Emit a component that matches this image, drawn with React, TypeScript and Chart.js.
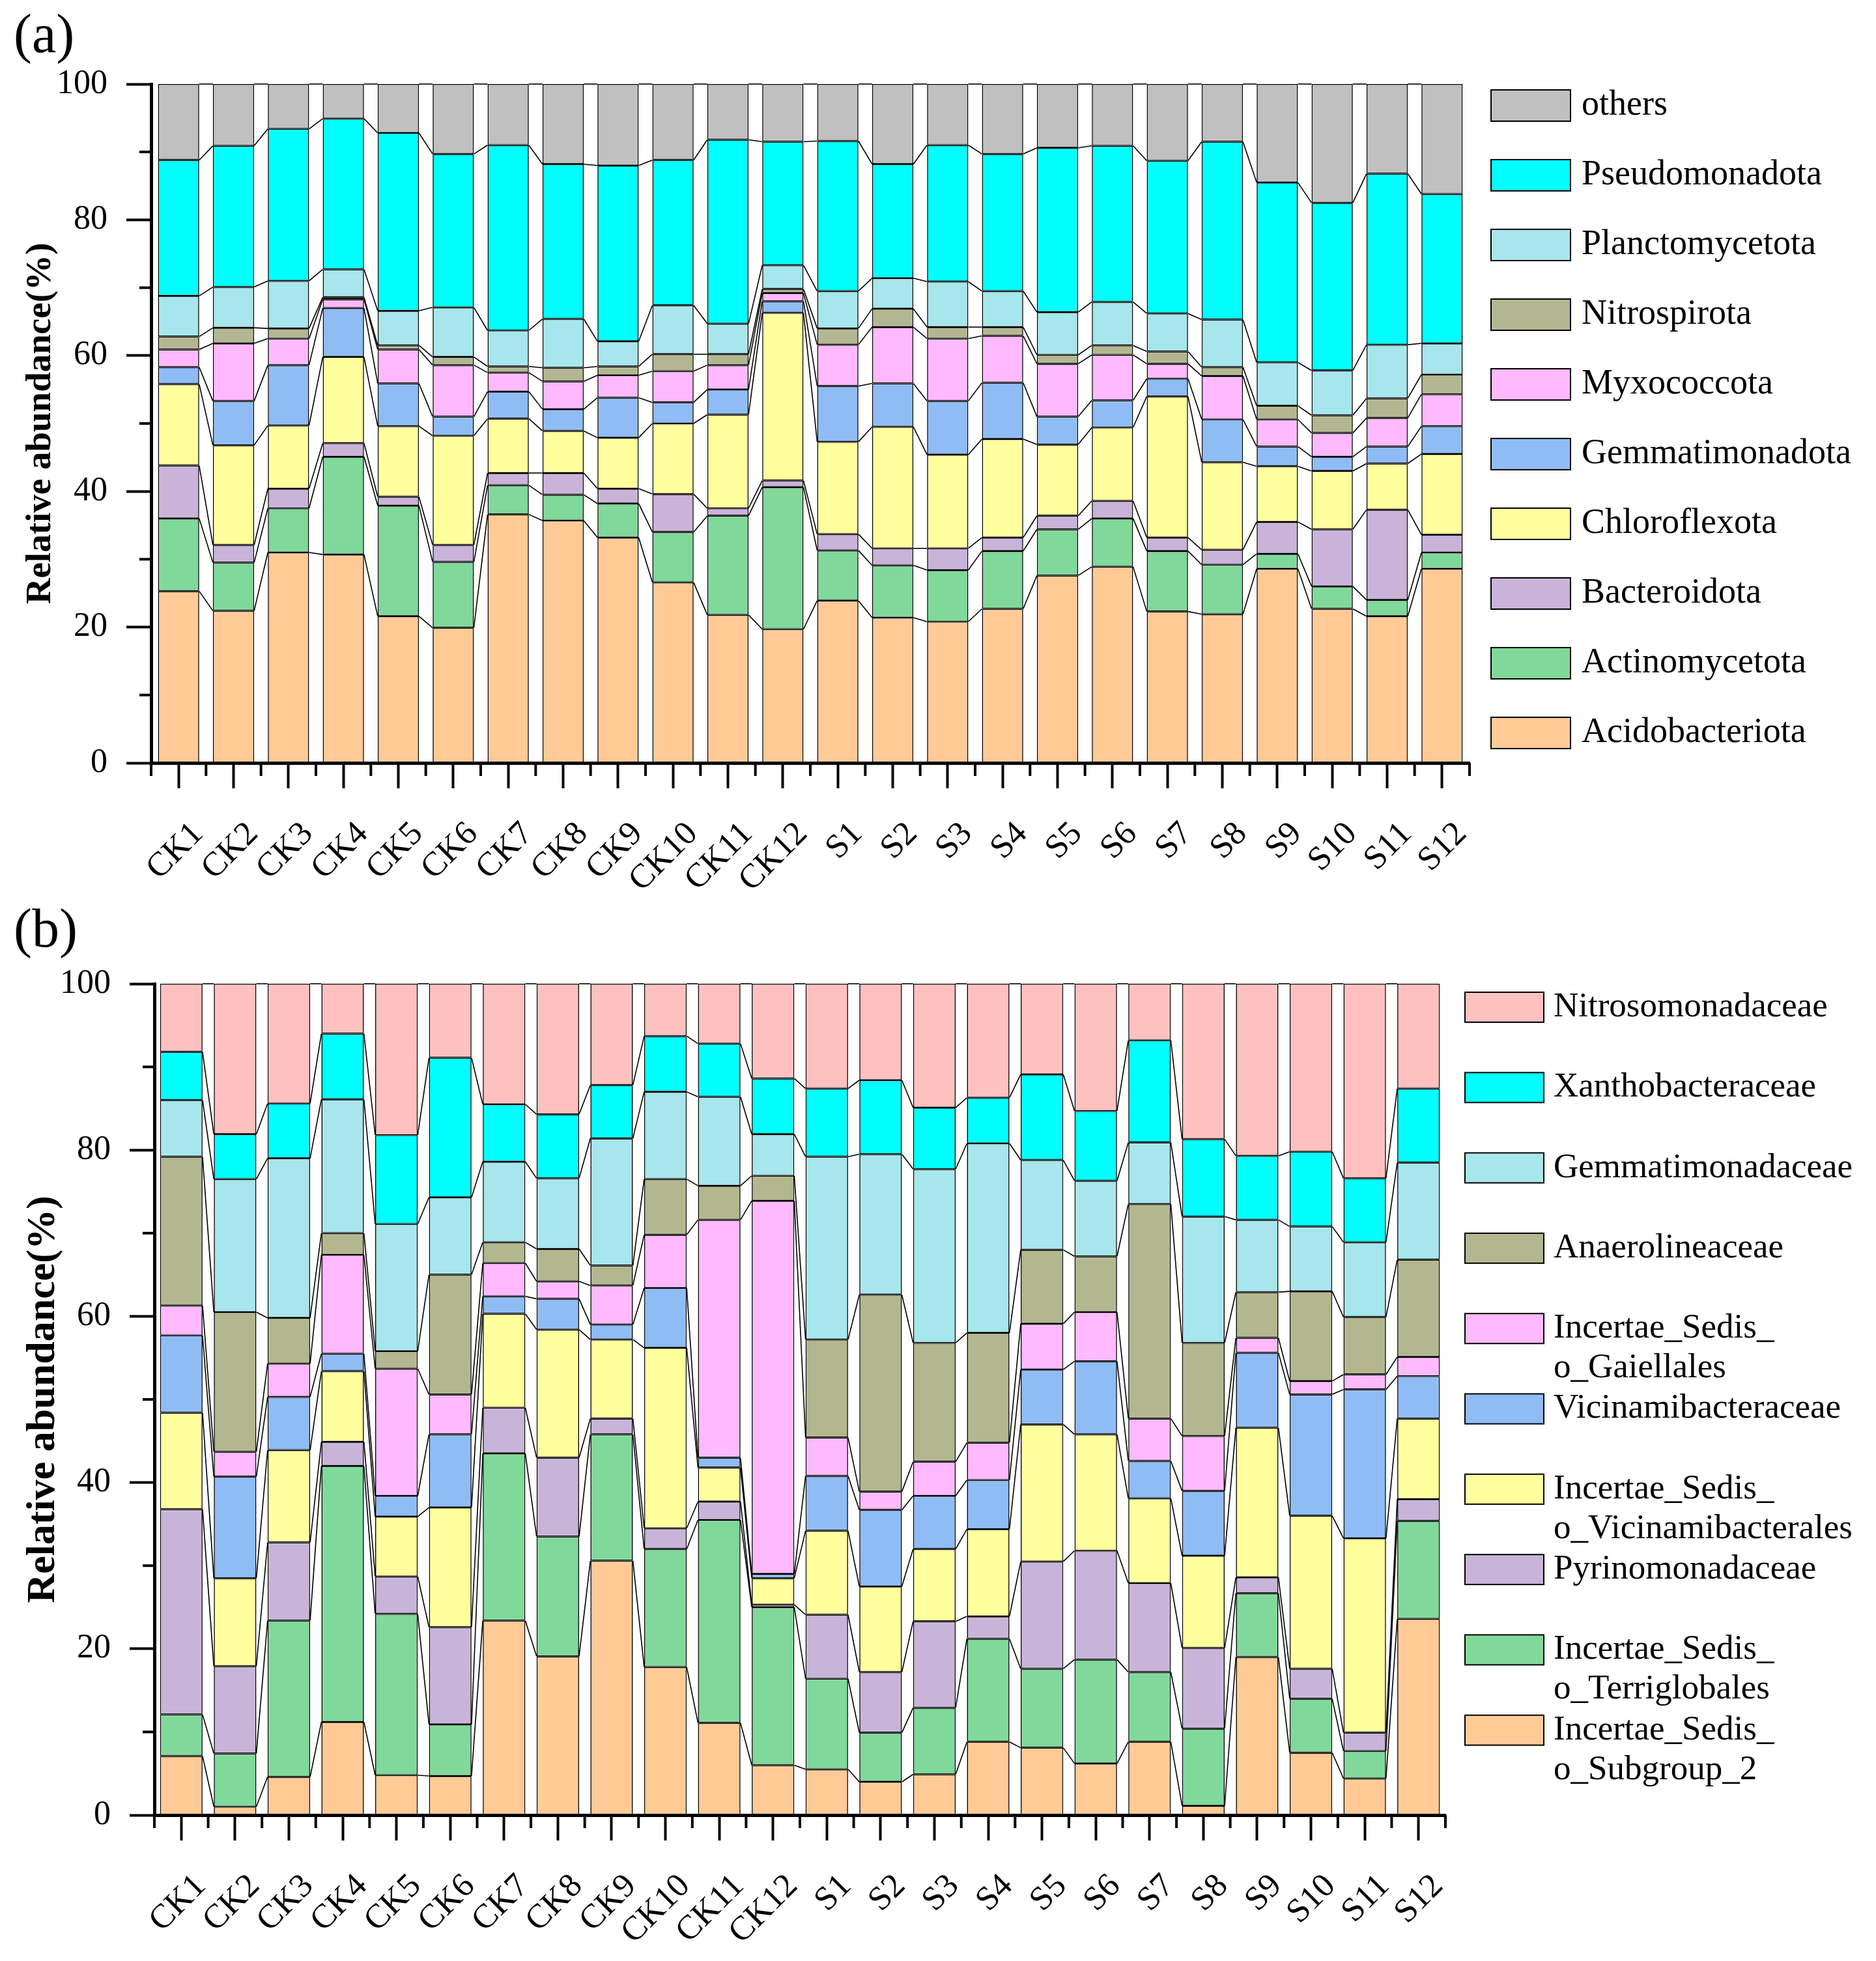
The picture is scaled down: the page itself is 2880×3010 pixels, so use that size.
import React, { useEffect, useRef } from 'react';
import { Chart, registerables } from 'chart.js';

Chart.register(...registerables);

// ---------- shared categories ----------
const samples = [
  'CK1', 'CK2', 'CK3', 'CK4', 'CK5', 'CK6', 'CK7', 'CK8', 'CK9', 'CK10', 'CK11', 'CK12',
  'S1', 'S2', 'S3', 'S4', 'S5', 'S6', 'S7', 'S8', 'S9', 'S10', 'S11', 'S12',
];
const yTickValues = [0, 20, 40, 60, 80, 100];
const yMinorTickValues = [10, 30, 50, 70, 90];
const yAxisTitle = 'Relative abundance(%)';

// ---------- panel (a): phyla (bottom -> top) ----------
const phylumNames = [
  'Acidobacteriota', 'Actinomycetota', 'Bacteroidota', 'Chloroflexota', 'Gemmatimonadota',
  'Myxococcota', 'Nitrospirota', 'Planctomycetota', 'Pseudomonadota', 'others',
];
const phylumColors = [
  '#FFCA96', '#80D89A', '#C9B3D8', '#FFFF9E', '#8FBCF5',
  '#FFB9FF', '#B3B791', '#A6E6EC', '#00FFFF', '#C0C0C0',
];
const acidobacteriota = [25.3, 22.4, 31.0, 30.7, 21.6, 19.9, 36.6, 35.7, 33.2, 26.6, 21.8, 19.7, 23.9, 21.4, 20.8, 22.7, 27.6, 28.9, 22.3, 21.9, 28.6, 22.7, 21.6, 28.6];
const actinomycetota = [10.7, 7.1, 6.5, 14.4, 16.3, 9.7, 4.3, 3.8, 5.0, 7.4, 14.6, 20.9, 7.4, 7.7, 7.6, 8.5, 6.8, 7.1, 8.9, 7.3, 2.2, 3.3, 2.4, 2.4];
const bacteroidota = [7.8, 2.6, 2.9, 2.0, 1.3, 2.5, 1.8, 3.2, 2.2, 5.6, 1.1, 1.0, 2.4, 2.5, 3.2, 2.0, 2.0, 2.6, 2.0, 2.2, 4.7, 8.4, 13.3, 2.6];
const chloroflexota = [12.0, 14.7, 9.3, 12.7, 10.4, 16.1, 8.0, 6.2, 7.5, 10.4, 13.8, 24.7, 13.6, 17.9, 13.8, 14.5, 10.5, 10.8, 20.8, 12.9, 8.2, 8.6, 6.8, 11.9];
const gemmatimonadota = [2.5, 6.5, 8.9, 7.2, 6.3, 2.8, 4.0, 3.2, 5.9, 3.1, 3.7, 1.7, 8.2, 6.4, 7.9, 8.3, 4.1, 4.0, 2.6, 6.3, 2.9, 2.1, 2.5, 4.1];
const myxococcota = [2.6, 8.5, 3.9, 1.3, 5.0, 7.6, 2.8, 4.1, 3.3, 4.6, 3.6, 1.2, 6.1, 8.3, 9.2, 6.9, 7.8, 6.7, 2.2, 6.4, 4.0, 3.5, 4.2, 4.7];
const nitrospirota = [1.9, 2.3, 1.5, 0.3, 0.6, 1.2, 0.9, 2.0, 1.3, 2.5, 1.6, 0.6, 2.4, 2.7, 1.7, 1.3, 1.3, 1.4, 1.8, 1.3, 2.0, 2.6, 2.9, 2.9];
const planctomycetota = [6.0, 6.0, 7.0, 4.1, 5.1, 7.3, 5.3, 7.2, 3.7, 7.2, 4.5, 3.5, 5.5, 4.5, 6.7, 5.3, 6.3, 6.4, 5.6, 7.0, 6.4, 6.6, 7.9, 4.6];
const pseudomonadota = [20.0, 20.8, 22.4, 22.2, 26.2, 22.6, 27.3, 22.8, 25.9, 21.4, 27.1, 18.2, 22.1, 16.8, 20.1, 20.2, 24.2, 23.0, 22.5, 26.2, 26.5, 24.7, 25.2, 22.0];
const othersPhyla = [11.2, 9.1, 6.6, 5.1, 7.2, 10.3, 9.0, 11.8, 12.0, 11.2, 8.2, 8.5, 8.4, 11.8, 9.0, 10.3, 9.4, 9.1, 11.3, 8.5, 14.5, 17.5, 13.2, 16.2];

// ---------- panel (b): families (bottom -> top) ----------
const familyNames = [
  'Incertae_Sedis_\no_Subgroup_2', 'Incertae_Sedis_\no_Terriglobales', 'Pyrinomonadaceae',
  'Incertae_Sedis_\no_Vicinamibacterales', 'Vicinamibacteraceae', 'Incertae_Sedis_\no_Gaiellales',
  'Anaerolineaceae', 'Gemmatimonadaceae', 'Xanthobacteraceae', 'Nitrosomonadaceae',
];
const familyColors = [
  '#FFCA96', '#80D99B', '#C8B4D8', '#FFFF9E', '#8FBCF5',
  '#FFB9FF', '#B3B78F', '#A6E6EC', '#00FFFF', '#FFC0C0',
];
const subgroup2 = [7.1, 1.0, 4.6, 11.2, 4.8, 4.7, 23.4, 19.1, 30.6, 17.8, 11.1, 6.0, 5.5, 4.0, 4.9, 8.8, 8.1, 6.2, 8.8, 1.1, 19.0, 7.5, 4.4, 23.6];
const terriglobales = [5.0, 6.4, 18.8, 30.8, 19.4, 6.2, 20.1, 14.4, 15.2, 14.2, 24.4, 19.0, 10.9, 5.9, 8.0, 12.4, 9.5, 12.5, 8.4, 9.3, 7.7, 6.5, 3.3, 11.8];
const pyrinomonadaceae = [24.7, 10.5, 9.4, 2.9, 4.5, 11.7, 5.5, 9.5, 1.9, 2.5, 2.2, 0.3, 7.7, 7.3, 10.4, 2.7, 12.9, 13.1, 10.7, 9.7, 1.9, 3.6, 2.2, 2.6];
const vicinamibacterales = [11.6, 10.6, 11.1, 8.5, 7.2, 14.4, 11.3, 15.4, 9.5, 21.7, 4.1, 3.2, 10.1, 10.3, 8.7, 10.5, 16.5, 14.0, 10.2, 11.1, 18.0, 18.4, 23.4, 9.7];
const vicinamibacteraceae = [9.3, 12.2, 6.4, 2.1, 2.5, 8.8, 2.1, 3.7, 1.8, 7.2, 1.2, 0.5, 6.6, 9.2, 6.4, 5.9, 6.6, 8.8, 4.5, 7.8, 9.0, 14.6, 17.9, 5.1];
const gaiellales = [3.6, 3.0, 4.0, 11.9, 15.3, 4.8, 4.0, 2.1, 4.7, 6.4, 28.6, 44.9, 4.6, 2.2, 4.1, 4.5, 5.5, 5.9, 5.1, 6.6, 1.8, 1.6, 1.8, 2.3];
const anaerolineaceae = [17.9, 16.8, 5.5, 2.6, 2.1, 14.4, 2.5, 3.9, 2.4, 6.7, 4.1, 3.0, 11.8, 23.7, 14.3, 13.2, 8.9, 6.7, 25.8, 11.2, 5.5, 10.8, 6.9, 11.7];
const gemmatimonadaceae = [6.8, 16.0, 19.2, 16.1, 15.3, 9.3, 9.7, 8.5, 15.3, 10.5, 10.7, 5.0, 22.0, 16.9, 20.9, 22.8, 10.8, 9.1, 7.4, 15.2, 8.7, 7.8, 9.0, 11.7];
const xanthobacteraceae = [5.8, 5.4, 6.6, 7.9, 10.7, 16.8, 6.9, 7.7, 6.4, 6.7, 6.4, 6.7, 8.2, 8.9, 7.4, 5.5, 10.3, 8.4, 12.3, 9.3, 7.7, 9.0, 7.7, 8.9];
const nitrosomonadaceae = [8.2, 18.1, 14.4, 6.0, 18.2, 8.9, 14.5, 15.7, 12.2, 6.3, 7.2, 11.4, 12.6, 11.6, 14.9, 13.7, 10.9, 15.3, 6.8, 18.7, 20.7, 20.2, 23.4, 12.6];

const phylumSeries = [acidobacteriota, actinomycetota, bacteroidota, chloroflexota, gemmatimonadota, myxococcota, nitrospirota, planctomycetota, pseudomonadota, othersPhyla];
const familySeries = [subgroup2, terriglobales, pyrinomonadaceae, vicinamibacterales, vicinamibacteraceae, gaiellales, anaerolineaceae, gemmatimonadaceae, xanthobacteraceae, nitrosomonadaceae];

const FONT = '"Liberation Serif", "Times New Roman", serif';

// ---------- plugins ----------
const connectorPlugin = {
  id: 'stackConnectors',
  afterDatasetsDraw(chart: any) {
    const ctx = chart.ctx;
    ctx.save();
    ctx.strokeStyle = '#000';
    ctx.lineWidth = 1.6;
    chart.data.datasets.forEach((_ds: any, di: number) => {
      const meta = chart.getDatasetMeta(di);
      const els = meta.data;
      for (let i = 0; i < els.length - 1; i++) {
        const a = els[i];
        const b = els[i + 1];
        ctx.beginPath();
        ctx.moveTo(a.x + a.width / 2, a.y);
        ctx.lineTo(b.x - b.width / 2, b.y);
        ctx.stroke();
      }
    });
    ctx.restore();
  },
};

const minorTickPlugin = {
  id: 'minorTicks',
  afterDraw(chart: any, _args: any, opts: any) {
    const ctx = chart.ctx;
    const xs = chart.scales.x;
    const ys = chart.scales.y;
    const area = chart.chartArea;
    ctx.save();
    ctx.strokeStyle = '#000';
    ctx.lineWidth = opts.width;
    const n = chart.data.labels.length;
    const pitch = xs.getPixelForValue(1) - xs.getPixelForValue(0);
    for (let i = 0; i <= n; i++) {
      const px = xs.getPixelForValue(0) - pitch / 2 + i * pitch;
      ctx.beginPath();
      ctx.moveTo(px, area.bottom);
      ctx.lineTo(px, area.bottom + opts.xLen);
      ctx.stroke();
    }
    yMinorTickValues.forEach((v) => {
      const py = ys.getPixelForValue(v);
      ctx.beginPath();
      ctx.moveTo(area.left, py);
      ctx.lineTo(area.left - opts.yLen, py);
      ctx.stroke();
    });
    ctx.restore();
  },
};

const legendPlugin = {
  id: 'stackLegend',
  afterDraw(chart: any, _args: any, opts: any) {
    const ctx = chart.ctx;
    const dss = chart.data.datasets;
    const n = dss.length;
    ctx.save();
    ctx.font = `${opts.fontSize}px ${FONT}`;
    ctx.textBaseline = 'middle';
    ctx.textAlign = 'left';
    for (let k = 0; k < n; k++) {
      const ds = dss[n - 1 - k];
      const cy = opts.y0 + k * opts.pitch;
      ctx.fillStyle = ds.backgroundColor;
      ctx.fillRect(opts.x, cy - opts.boxH / 2, opts.boxW, opts.boxH);
      ctx.strokeStyle = '#000';
      ctx.lineWidth = 2;
      ctx.strokeRect(opts.x, cy - opts.boxH / 2, opts.boxW, opts.boxH);
      ctx.fillStyle = '#000';
      const lines = String(ds.label).split('\n');
      lines.forEach((ln: string, li: number) => {
        ctx.fillText(ln, opts.textX, cy + li * opts.lineGap);
      });
    }
    ctx.restore();
  },
};

type PanelSpec = {
  names: string[];
  colors: string[];
  series: number[][];
  barPct: number;
  padTop: number;
  padRight: number;
  xAxisHeight: number;
  yAxisWidth: number;
  titleSize: number;
  legend: any;
};

function buildConfig(p: PanelSpec): any {
  return {
    type: 'bar',
    data: {
      labels: samples,
      datasets: p.series.map((vals, i) => ({
        label: p.names[i],
        data: vals,
        backgroundColor: p.colors[i],
        borderColor: '#000',
        borderWidth: 1.6,
        borderSkipped: false,
        barPercentage: p.barPct,
        categoryPercentage: 1,
      })),
    },
    options: {
      responsive: false,
      maintainAspectRatio: false,
      animation: false,
      devicePixelRatio: 1,
      layout: { padding: { left: 0, top: p.padTop, right: p.padRight, bottom: 0 } },
      plugins: {
        legend: { display: false },
        tooltip: { enabled: false },
        title: { display: false },
        stackLegend: p.legend,
        minorTicks: { width: 4, xLen: 20, yLen: 18 },
      },
      scales: {
        x: {
          stacked: true,
          offset: true,
          afterFit: (s: any) => { s.height = p.xAxisHeight; },
          grid: {
            display: true,
            drawOnChartArea: false,
            drawTicks: true,
            tickLength: 39,
            tickWidth: 4,
            tickColor: '#000',
            offset: false,
          },
          border: { display: true, color: '#000', width: 5 },
          ticks: {
            autoSkip: false,
            minRotation: 45,
            maxRotation: 45,
            padding: 40,
            labelOffset: 30,
            color: '#000',
            font: { family: FONT, size: 52 },
          },
        },
        y: {
          stacked: true,
          min: 0,
          max: 100,
          afterFit: (s: any) => { s.width = p.yAxisWidth; },
          afterBuildTicks: (s: any) => { s.ticks = yTickValues.map((v) => ({ value: v })); },
          grid: {
            display: true,
            drawOnChartArea: false,
            drawTicks: true,
            tickLength: 38,
            tickWidth: 4,
            tickColor: '#000',
          },
          border: { display: true, color: '#000', width: 5 },
          ticks: {
            padding: 29,
            color: '#000',
            font: { family: FONT, size: 52 },
          },
          title: {
            display: true,
            text: yAxisTitle,
            color: '#000',
            font: { family: FONT, size: p.titleSize, weight: 'bold' },
            padding: { top: 30, bottom: 0 },
          },
        },
      },
    },
    plugins: [connectorPlugin, minorTickPlugin, legendPlugin],
  };
}

const W = 2880;
const HA = 1390;
const HB = 1620;

export default function App() {
  const refA = useRef<HTMLCanvasElement>(null);
  const refB = useRef<HTMLCanvasElement>(null);

  useEffect(() => {
    const chartA = new Chart(refA.current as HTMLCanvasElement, buildConfig({
      names: phylumNames,
      colors: phylumColors,
      series: phylumSeries,
      barPct: 0.75,
      padTop: 129,
      padRight: W - 2256,
      xAxisHeight: HA - 1171,
      yAxisWidth: 232,
      titleSize: 55,
      legend: { x: 2289, boxW: 122, boxH: 48, y0: 162, pitch: 107, textX: 2428, fontSize: 54, lineGap: 60 },
    }));
    const chartB = new Chart(refB.current as HTMLCanvasElement, buildConfig({
      names: familyNames,
      colors: familyColors,
      series: familySeries,
      barPct: 0.79,
      padTop: 1510 - HA,
      padRight: W - 2219,
      xAxisHeight: HB - (2786 - HA),
      yAxisWidth: 237,
      titleSize: 62,
      legend: { x: 2249, boxW: 121, boxH: 46, y0: 1546 - HA, pitch: 123.3, textX: 2385, fontSize: 53, lineGap: 61 },
    }));
    return () => {
      chartA.destroy();
      chartB.destroy();
    };
  }, []);

  return (
    <div style={{ position: 'absolute', left: 0, top: 0, width: W, height: HA + HB, background: '#fff', fontFamily: FONT, overflow: 'hidden' }}>
      <canvas ref={refA} width={W} height={HA} style={{ position: 'absolute', left: 0, top: 0, width: W, height: HA }} />
      <canvas ref={refB} width={W} height={HB} style={{ position: 'absolute', left: 0, top: HA, width: W, height: HB }} />
      <div style={{ position: 'absolute', left: 21, top: 10, fontSize: 84, lineHeight: '84px', color: '#000' }}>(a)</div>
      <div style={{ position: 'absolute', left: 21, top: 1383, fontSize: 84, lineHeight: '84px', color: '#000' }}>(b)</div>
    </div>
  );
}
